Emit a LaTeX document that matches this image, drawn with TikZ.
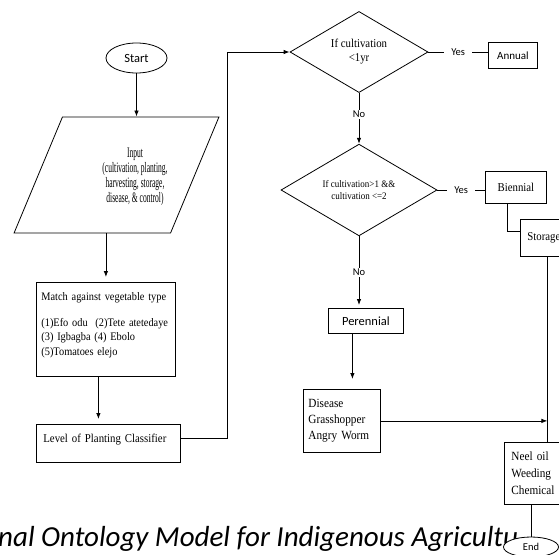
\documentclass[tikz,border=0pt]{standalone}
\usepackage{fontspec}
\setmainfont{Liberation Serif}[FakeStretch=0.9]
\newfontfamily\narrowserif{Liberation Serif}[FakeStretch=0.52]
\newfontfamily\calib{Carlito}
\usetikzlibrary{shapes.geometric,arrows.meta}

\begin{document}
\begin{tikzpicture}[x=1pt,y=-1pt]
\tikzstyle{box}=[draw,rectangle,line width=0.8pt,inner xsep=7pt,inner ysep=0pt,align=left]
\tikzstyle{sbox}=[draw,rectangle,line width=0.8pt,inner sep=0pt]
\tikzstyle{term}=[draw,ellipse,line width=0.8pt,inner sep=0pt,fill=white]
\tikzstyle{decision}=[draw,diamond,line width=0.8pt,inner sep=0pt,align=center]
\tikzstyle{arr}=[line width=0.8pt,-{Latex[length=6pt,width=4.5pt]}]
\tikzstyle{link}=[line width=0.8pt]
\tikzstyle{yn}=[fill=white,inner xsep=7pt,inner ysep=1pt,font=\calib\fontsize{10.5}{12}\selectfont]
\useasboundingbox (0,0) rectangle (559,554);
% left column
\node[term,minimum width=61pt,minimum height=30pt,font=\calib\fontsize{12.5}{14}\selectfont] (start) at (136.5,58) {Start};
\node[draw,trapezium,trapezium left angle=65.9,trapezium right angle=114.1,trapezium stretches=true,minimum width=205pt,minimum height=116pt,line width=0.8pt] (input) at (116.5,175) {};
\node[align=center,font=\narrowserif\fontsize{14.5}{15}\selectfont] (inputtext) at (135,177) {Input\\(cultivation, planting,\\harvesting, storage,\\disease, \& control)};
\node[box,anchor=north west,inner xsep=5pt,minimum width=139pt,minimum height=94pt,text width=129pt,font=\fontsize{11.5}{14.5}\selectfont] (match) at (36,282) {Match against vegetable type\\[11pt](1)Efo odu\ \ (2)Tete atetedaye\\(3) Igbagba (4) Ebolo\\(5)Tomatoes elejo\\[-4pt]\mbox{}};
\node[box,anchor=north west,minimum width=144pt,minimum height=38pt,text width=130pt,text depth=11pt,font=\fontsize{12}{14}\selectfont] (level) at (36,424) {Level of Planting Classifier};
% decisions
\node[decision,minimum width=138pt,minimum height=78pt,font=\fontsize{12}{14}\selectfont] (d1) at (359,52) {If cultivation\\\textless1yr};
\node[decision,minimum width=156pt,minimum height=70pt,font=\fontsize{10}{12}\selectfont] (d2) at (359,190) {If cultivation\textgreater1 \&\&\\cultivation \textless=2};
\node[sbox,anchor=north west,minimum width=49pt,minimum height=26pt,font=\calib\fontsize{11}{13}\selectfont] (annual) at (488,42) {Annual};
\node[sbox,anchor=north west,minimum width=61pt,minimum height=32pt,font=\fontsize{12}{14}\selectfont] (biennial) at (485,171) {Biennial};
\node[box,anchor=north west,minimum width=54pt,minimum height=37pt,text width=40pt,font=\fontsize{12}{14}\selectfont] (storage) at (520,219) {Storage};
\node[sbox,anchor=north west,minimum width=75pt,minimum height=25pt,font=\calib\fontsize{12.5}{14}\selectfont] (perennial) at (328,308) {Perennial};
\node[box,anchor=north west,inner xsep=5pt,minimum width=77pt,minimum height=63pt,text width=67pt,font=\fontsize{12.5}{16}\selectfont] (disease) at (303,389) {Disease\\Grasshopper\\Angry Worm};
\node[box,anchor=north west,minimum width=86pt,minimum height=62pt,text width=72pt,font=\fontsize{12.5}{17}\selectfont] (neel) at (504,442) {Neel oil\\Weeding\\Chemical};
\node[anchor=base west,inner sep=0pt,font=\calib\itshape\fontsize{29}{32}\selectfont] (caption) at (-2,546) {nal Ontology Model for Indigenous Agricultu};
\node[term,minimum width=55pt,minimum height=20pt,font=\calib\fontsize{10.5}{12}\selectfont] (end) at (531,547) {End};
\coordinate (turn) at (227,52);
% connectors
\draw[arr] (start.south) -- (start.south |- input.north);
\draw[arr,shorten >=5pt] (match.north |- input.south) -- (match.north);
\draw[arr,shorten >=5pt] ([xshift=-7.5pt]match.south) -- ([xshift=-7.5pt]match.south |- level.north);
\draw[arr] ([yshift=5pt]level.east) -| (turn) -- (d1.west);
\draw[arr] (d1.south) -- node[yn,pos=0.42]{No} (d2.north);
\draw[link] (d1.east) -- node[yn]{Yes} (d1.east -| annual.west);
\draw[link] (d2.east) -- node[yn]{Yes} (d2.east -| biennial.west);
\draw[arr,shorten >=3pt] (d2.south) -- node[yn]{No} (d2.south |- perennial.north);
\draw[arr,shorten >=10pt] ([xshift=-13.5pt]perennial.south) -- ([xshift=-13.5pt]perennial.south |- disease.north);
\draw[link] ([xshift=-8.5pt]biennial.south) |- ([yshift=7pt]storage.west);
\draw[link] (storage.south) -- (neel.north);
\draw[arr] (disease.east) -- (disease.east -| neel.north);
\draw[link] (neel.south -| end.north) -- (end.north);
\end{tikzpicture}
\end{document}
